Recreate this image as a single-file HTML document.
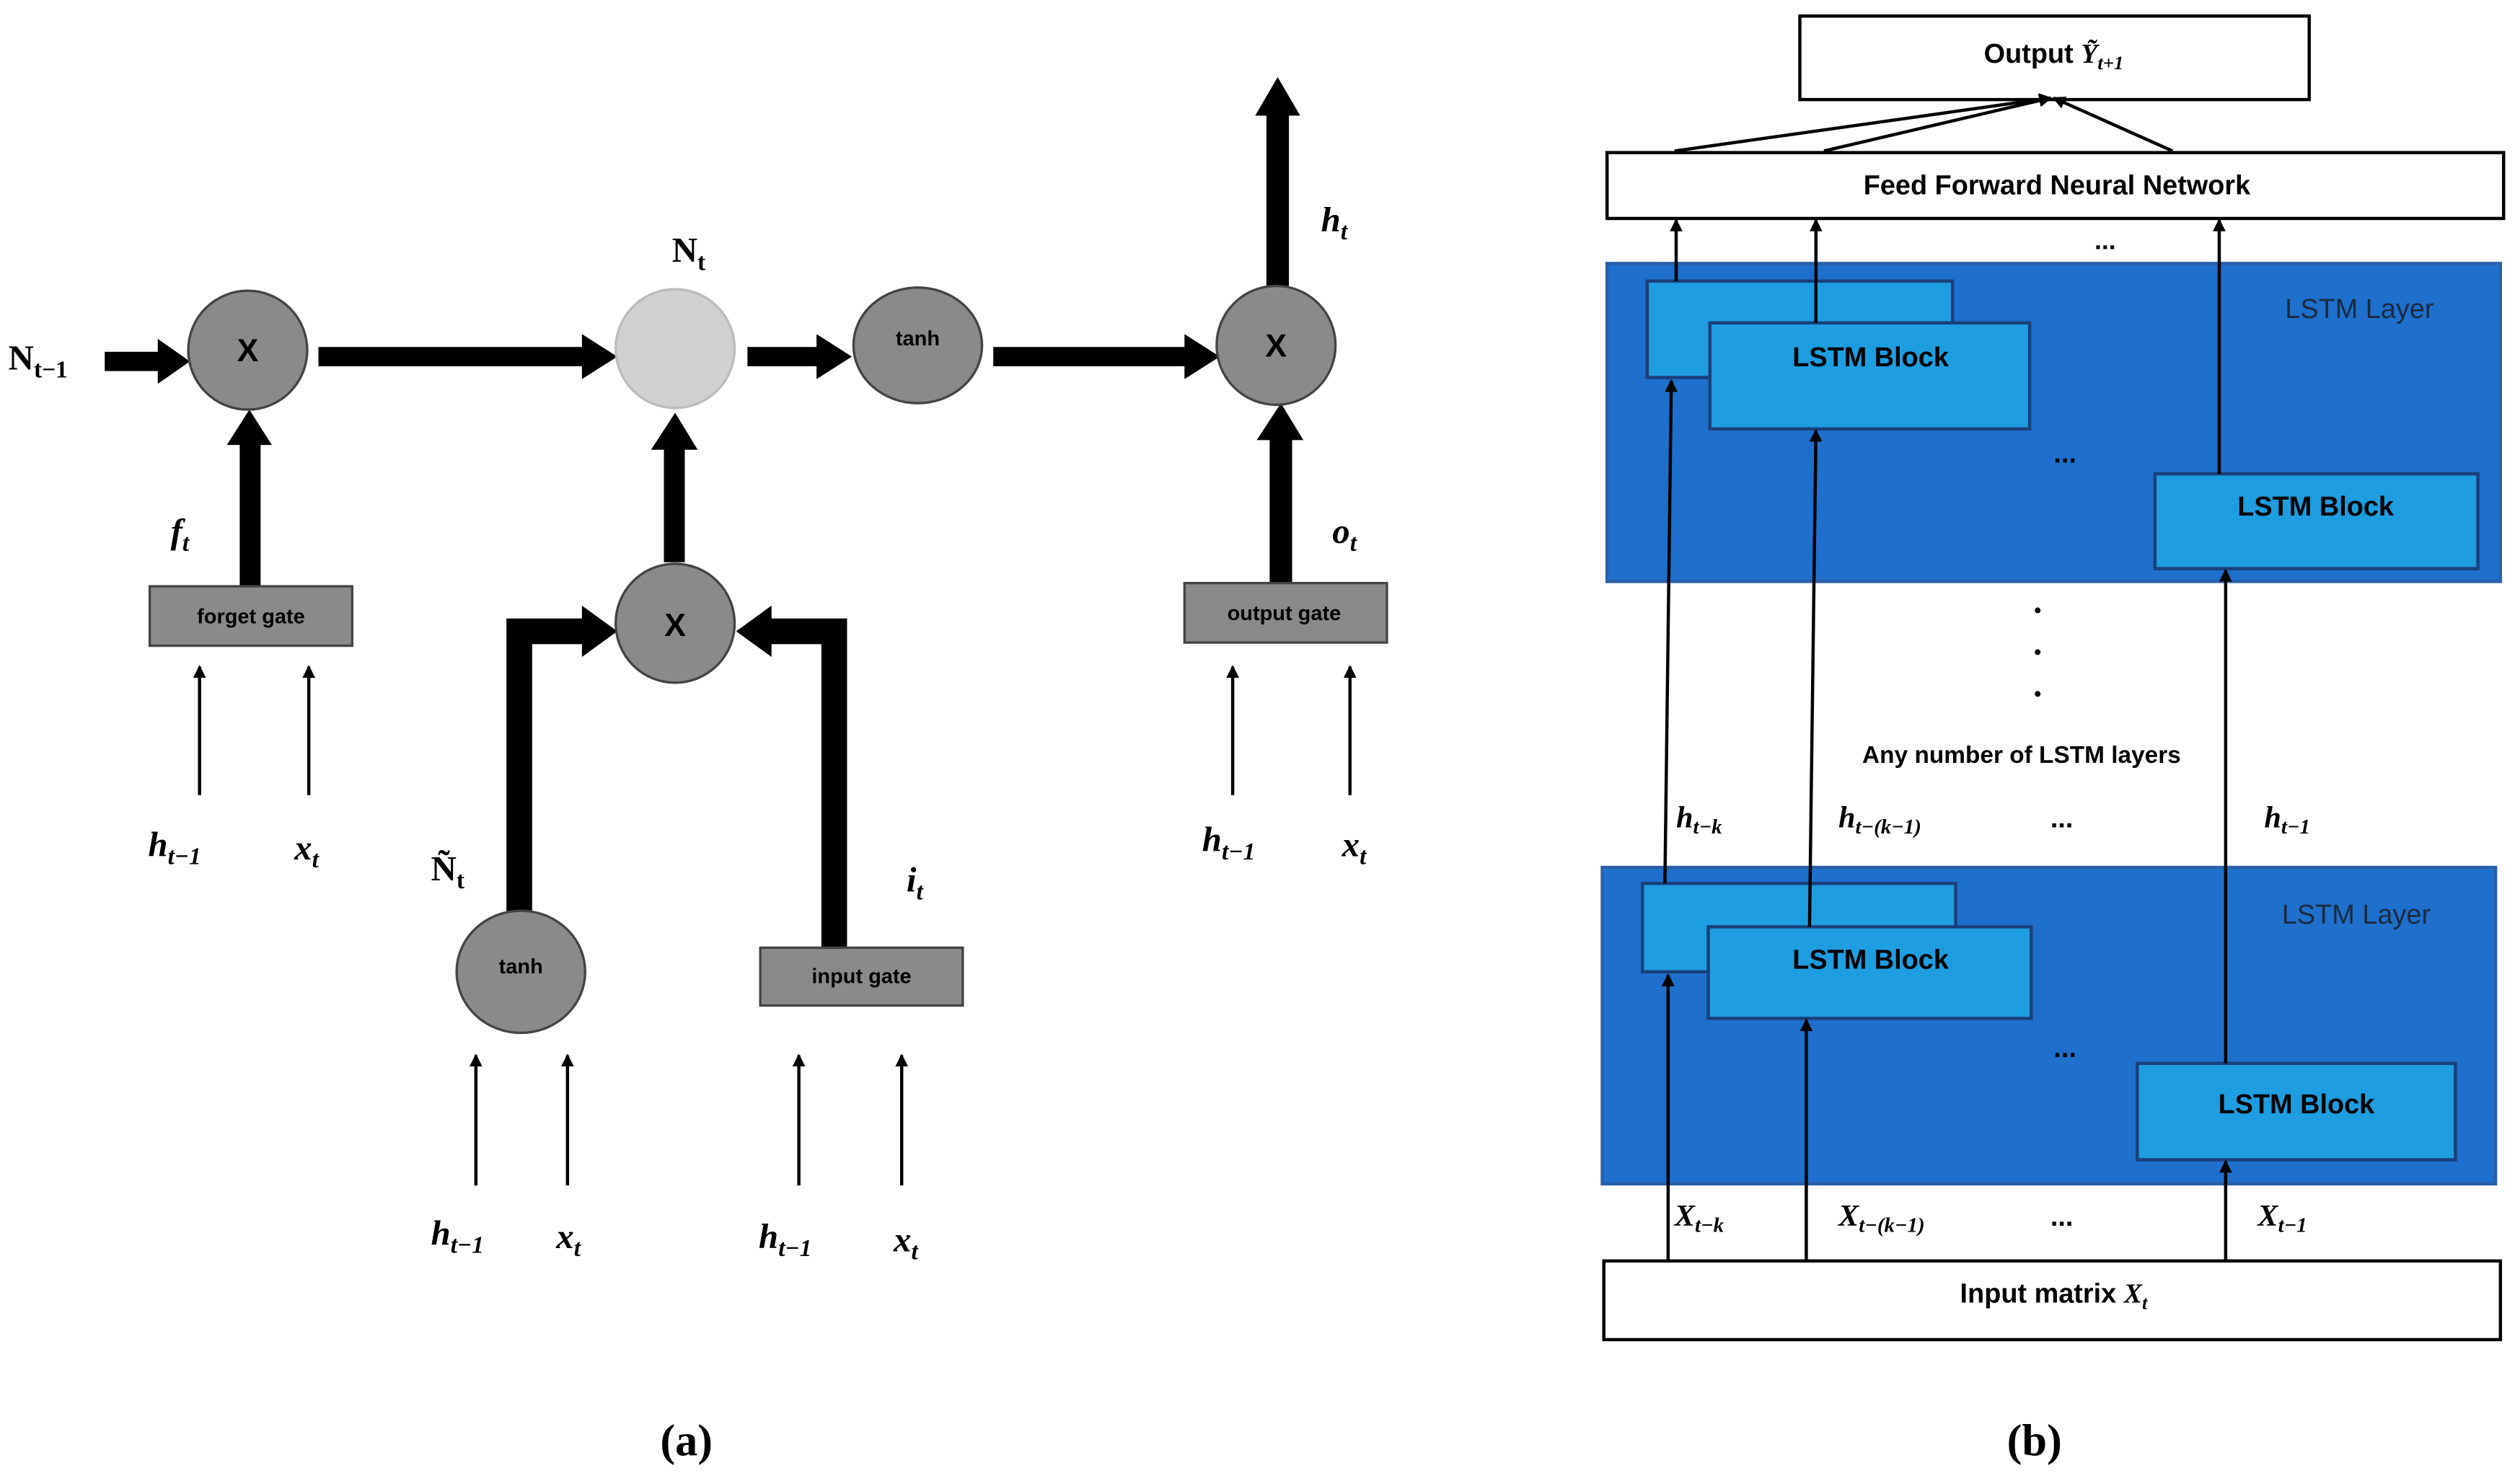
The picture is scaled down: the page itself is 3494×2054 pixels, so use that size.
<!DOCTYPE html>
<html><head><meta charset="utf-8"><style>html,body{margin:0;padding:0;background:#fff}svg{display:block}</style></head>
<body>
<svg width="3494" height="2054" viewBox="0 0 1568 922" xmlns="http://www.w3.org/2000/svg" font-family="Liberation Sans, sans-serif">
<defs>
<marker id="ah" markerWidth="8" markerHeight="8" refX="7" refY="4" orient="auto" markerUnits="userSpaceOnUse"><path d="M0,0 L8,4 L0,8 z" fill="#000"/></marker>
<marker id="bh" markerWidth="10" markerHeight="10" refX="9" refY="5" orient="auto" markerUnits="userSpaceOnUse"><path d="M0,0 L10,5 L0,10 z" fill="#000"/></marker>
</defs>
<g fill="#000">
<!-- thick horizontal arrows -->
<rect x="65" y="219" width="35" height="12"/><path d="M98,211 L118,225 L98,239z"/>
<rect x="198" y="216" width="165" height="12"/><path d="M362,208 L384,222 L362,236z"/>
<rect x="465" y="216" width="45" height="12"/><path d="M508,208 L530,222 L508,236z"/>
<rect x="618" y="216" width="120" height="12"/><path d="M737,208 L759,222 L737,236z"/>
<!-- up arrows -->
<rect x="788" y="70" width="14" height="108"/><path d="M781,72 L795,48 L809,72z"/>
<rect x="149" y="275" width="13" height="90"/><path d="M141,277 L155,255 L169,277z"/>
<rect x="413" y="278" width="13" height="72"/><path d="M405,280 L420,257 L434,280z"/>
<rect x="790" y="272" width="14" height="91"/><path d="M782,274 L797,251 L811,274z"/>
<!-- elbow arrows -->
<path d="M315,570 L315,385 L362,385 L362,377 L384,393 L362,409 L362,401 L331,401 L331,570z"/>
<path d="M527,590 L527,385 L480,385 L480,377 L458,393 L480,409 L480,401 L511,401 L511,590z"/>
</g>
<!-- circles -->
<g stroke="#444" stroke-width="1.5">
<circle cx="154" cy="218" r="37" fill="#8a8a8a"/>
<circle cx="420" cy="217" r="37" fill="#d0d0d0" stroke="#bbb"/>
<ellipse cx="571" cy="215" rx="40" ry="36" fill="#8a8a8a"/>
<circle cx="794" cy="215" r="37" fill="#8a8a8a"/>
<circle cx="420" cy="388" r="37" fill="#8a8a8a"/>
<ellipse cx="324" cy="605" rx="40" ry="38" fill="#8a8a8a"/>
<rect x="93" y="365" width="126" height="37" fill="#8a8a8a"/>
<rect x="473" y="590" width="126" height="36" fill="#8a8a8a"/>
<rect x="737" y="363" width="126" height="37" fill="#8a8a8a"/>
</g>
<g font-weight="bold" text-anchor="middle">
<text x="154" y="225" font-size="20">X</text>
<text x="420" y="396" font-size="20">X</text>
<text x="794" y="222" font-size="20">X</text>
<text x="571" y="215" font-size="13">tanh</text>
<text x="324" y="606" font-size="13">tanh</text>
<text x="156" y="388" font-size="13">forget gate</text>
<text x="536" y="612" font-size="13">input gate</text>
<text x="799" y="386" font-size="13">output gate</text>
</g>
<!-- thin arrows -->
<g stroke="#000" stroke-width="2" marker-end="url(#ah)">
<line x1="124" y1="495" x2="124" y2="415"/><line x1="192" y1="495" x2="192" y2="415"/>
<line x1="767" y1="495" x2="767" y2="415"/><line x1="840" y1="495" x2="840" y2="415"/>
<line x1="296" y1="738" x2="296" y2="657"/><line x1="353" y1="738" x2="353" y2="657"/>
<line x1="497" y1="738" x2="497" y2="657"/><line x1="561" y1="738" x2="561" y2="657"/>
</g>
<g font-family="Liberation Serif, serif" font-weight="bold" font-style="italic" font-size="22">
<text x="5" y="230" font-style="normal">N<tspan font-size="15" dy="5">t−1</tspan></text>
<text x="418" y="163" font-style="normal">N<tspan font-size="15" dy="5">t</tspan></text>
<text x="268" y="548" font-style="normal">Ñ<tspan font-size="15" dy="5">t</tspan></text>
<text x="822" y="144">h<tspan font-size="15" dy="5">t</tspan></text>
<text x="106" y="338">f<tspan font-size="15" dy="5">t</tspan></text>
<text x="829" y="338">o<tspan font-size="15" dy="5">t</tspan></text>
<text x="564" y="555">i<tspan font-size="15" dy="5">t</tspan></text>
<text x="92" y="533">h<tspan font-size="15" dy="5">t−1</tspan></text>
<text x="183" y="535">x<tspan font-size="15" dy="5">t</tspan></text>
<text x="748" y="530">h<tspan font-size="15" dy="5">t−1</tspan></text>
<text x="835" y="533">x<tspan font-size="15" dy="5">t</tspan></text>
<text x="268" y="775">h<tspan font-size="15" dy="5">t−1</tspan></text>
<text x="346" y="777">x<tspan font-size="15" dy="5">t</tspan></text>
<text x="472" y="777">h<tspan font-size="15" dy="5">t−1</tspan></text>
<text x="556" y="779">x<tspan font-size="15" dy="5">t</tspan></text>
</g>
<g font-family="Liberation Serif, serif" font-weight="bold" font-size="28" text-anchor="middle">
<text x="427" y="906">(a)</text><text x="1266" y="906">(b)</text>
</g>
<!-- right diagram -->
<rect x="1120" y="10" width="317" height="52" fill="#fff" stroke="#000" stroke-width="2"/>
<text x="1278" y="39" font-size="17" font-weight="bold" text-anchor="middle">Output <tspan font-family="Liberation Serif, serif" font-style="italic">Ỹ<tspan font-size="12" dy="4">t+1</tspan></tspan></text>
<rect x="1000" y="95" width="558" height="41" fill="#fff" stroke="#000" stroke-width="2"/>
<text x="1280" y="121" font-size="17" font-weight="bold" text-anchor="middle">Feed Forward Neural Network</text>
<g stroke="#000" stroke-width="2" marker-end="url(#ah)">
<line x1="1042" y1="94" x2="1276" y2="61"/><line x1="1135" y1="94" x2="1276" y2="61"/><line x1="1352" y1="94" x2="1278" y2="61"/>
</g>
<text x="1310" y="155" font-size="16" font-weight="bold" text-anchor="middle">...</text>
<g stroke="#1a3f7a" stroke-width="2">
<rect x="1000" y="164" width="556" height="198" fill="#1f6fcc" stroke="#2a60a8"/>
<rect x="997" y="540" width="556" height="197" fill="#1f6fcc" stroke="#2a60a8"/>
<rect x="1025" y="175" width="190" height="60" fill="#1e9de0"/>
<rect x="1064" y="201" width="199" height="66" fill="#1e9de0"/>
<rect x="1341" y="295" width="201" height="59" fill="#1e9de0"/>
<rect x="1022" y="550" width="195" height="55" fill="#1e9de0"/>
<rect x="1063" y="577" width="201" height="57" fill="#1e9de0"/>
<rect x="1330" y="662" width="198" height="60" fill="#1e9de0"/>
</g>
<g font-size="17" font-weight="bold" text-anchor="middle">
<text x="1164" y="228">LSTM Block</text><text x="1441" y="321">LSTM Block</text>
<text x="1164" y="603">LSTM Block</text><text x="1429" y="693">LSTM Block</text>
<text x="1285" y="288">...</text><text x="1285" y="658">...</text><text x="1283" y="515">...</text><text x="1283" y="763">...</text>
</g>
<g font-size="17" fill="#1a2a40"><text x="1422" y="198">LSTM Layer</text><text x="1420" y="575">LSTM Layer</text></g>
<g stroke="#000" stroke-width="2" marker-end="url(#ah)">
<line x1="1038" y1="785" x2="1038" y2="607"/>
<line x1="1036" y1="550" x2="1040" y2="237"/>
<line x1="1043" y1="175" x2="1043" y2="137"/>
<line x1="1130" y1="201" x2="1130" y2="137"/>
<line x1="1126" y1="577" x2="1130" y2="268"/>
<line x1="1124" y1="785" x2="1124" y2="635"/>
<line x1="1381" y1="295" x2="1381" y2="137"/>
<line x1="1385" y1="662" x2="1385" y2="355"/>
<line x1="1385" y1="785" x2="1385" y2="723"/>
</g>
<g fill="#000"><circle cx="1268" cy="380" r="1.8"/><circle cx="1268" cy="406" r="1.8"/><circle cx="1268" cy="432" r="1.8"/></g>
<text x="1258" y="475" font-size="15" font-weight="bold" text-anchor="middle">Any number of LSTM layers</text>
<g font-family="Liberation Serif, serif" font-weight="bold" font-style="italic" font-size="19">
<text x="1043" y="515">h<tspan font-size="13" dy="4">t−k</tspan></text>
<text x="1144" y="515">h<tspan font-size="13" dy="4">t−(k−1)</tspan></text>
<text x="1409" y="515">h<tspan font-size="13" dy="4">t−1</tspan></text>
<text x="1042" y="763">X<tspan font-size="13" dy="4">t−k</tspan></text>
<text x="1144" y="763">X<tspan font-size="13" dy="4">t−(k−1)</tspan></text>
<text x="1405" y="763">X<tspan font-size="13" dy="4">t−1</tspan></text>
</g>
<rect x="998" y="785" width="558" height="49" fill="#fff" stroke="#000" stroke-width="2"/>
<text x="1278" y="811" font-size="17" font-weight="bold" text-anchor="middle">Input matrix <tspan font-family="Liberation Serif, serif" font-style="italic">X<tspan font-size="12" dy="4">t</tspan></tspan></text>
</svg>
</body></html>
